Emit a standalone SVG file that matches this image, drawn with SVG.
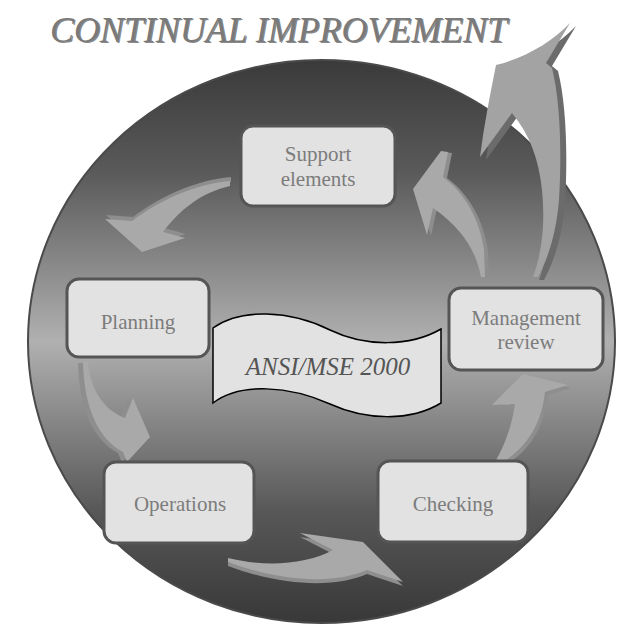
<svg xmlns="http://www.w3.org/2000/svg" width="621" height="624" viewBox="0 0 621 624">
<defs>
<linearGradient id="disc" x1="0" y1="0" x2="0" y2="1">
<stop offset="0" stop-color="#3a3a3a"/>
<stop offset="0.2" stop-color="#5a5a5a"/>
<stop offset="0.5" stop-color="#b0b0b0"/>
<stop offset="0.8" stop-color="#585858"/>
<stop offset="1" stop-color="#383838"/>
</linearGradient>
</defs>
<style>
.box{fill:#e2e2e2;stroke:#555;stroke-width:3}
.lbl{font-family:"Liberation Serif","Times New Roman",serif;font-size:21px;fill:#7c7c7c;text-anchor:middle}
.face{fill:#a9a9a9}
.side{fill:#8e8e8e}
.bigface{fill:#a3a3a3}
.bigside{fill:#6b6b6b}
.ttl{font-family:"Liberation Serif","Times New Roman",serif;font-style:italic;font-size:36px}
</style>
<rect width="621" height="624" fill="#ffffff"/>
<ellipse id="disc-bg" cx="321.5" cy="341.5" rx="293.5" ry="281.5" fill="url(#disc)" stroke="#4a4a4a" stroke-width="2"/>

<g id="connectors">
<g id="arrow-mgmt-support">
<path class="side" transform="translate(4,1)" d="M441,151 L448,152 L443,177 C465,193 480,220 484,250 L485,277 L481,277 C477,255 465,230 433,208 L427,235 L413,189 Z"/>
<path class="face" d="M441,151 L448,152 L443,177 C465,193 480,220 484,250 L485,277 L481,277 C477,255 465,230 433,208 L427,235 L413,189 Z"/>
</g>
<g id="arrow-support-planning">
<path class="side" transform="translate(1,-4)" d="M230,181 C195,184 160,200 132,221 L105,219 L142,252 L185,238 L163,232 C180,210 200,193 230,186 Z"/>
<path class="face" d="M230,181 C195,184 160,200 132,221 L105,219 L142,252 L185,238 L163,232 C180,210 200,193 230,186 Z"/>
</g>
<g id="arrow-planning-operations">
<path class="side" transform="translate(-5,1)" d="M88,362 C90,388 103,410 125,418 L133,398 L150,437 L127,462 L123,452 C100,440 84,410 83,362 Z"/>
<path class="face" d="M88,362 C90,388 103,410 125,418 L133,398 L150,437 L127,462 L123,452 C100,440 84,410 83,362 Z"/>
</g>
<g id="arrow-operations-checking">
<path class="side" transform="translate(0,4)" d="M228,558 C265,567 305,565 333,550 L300,533 L363,542 L403,582 L367,570 C340,582 290,585 228,562 Z"/>
<path class="face" d="M228,558 C265,567 305,565 333,550 L300,533 L363,542 L403,582 L367,570 C340,582 290,585 228,562 Z"/>
</g>
<g id="arrow-checking-mgmt">
<path class="side" transform="translate(3,3)" d="M495,462 C505,445 512,425 515,404 L492,405 L523,374 L568,385 L545,392 C542,420 530,445 503,462 Z"/>
<path class="face" d="M495,462 C505,445 512,425 515,404 L492,405 L523,374 L568,385 L545,392 C542,420 530,445 503,462 Z"/>
</g>
<g id="arrow-continual">
<path class="bigside" transform="translate(6,3)" d="M496,65 C525,58 552,42 570,23 L546,63 L552,68 C560,100 562,150 559,200 C556,235 548,258 538,277 L533,277 C543,250 545,220 542,190 C539,160 530,135 512,113 L480,157 C484,125 490,95 496,65 Z"/>
<path class="bigface" d="M496,65 C525,58 552,42 570,23 L546,63 L552,68 C560,100 562,150 559,200 C556,235 548,258 538,277 L533,277 C543,250 545,220 542,190 C539,160 530,135 512,113 L480,157 C484,125 490,95 496,65 Z"/>
</g>
</g>

<g id="node-support">
<rect class="box" x="241" y="126" width="154" height="80" rx="12"/>
<text class="lbl" x="318" y="161">Support</text>
<text class="lbl" x="318" y="186">elements</text>
</g>
<g id="node-planning">
<rect class="box" x="67" y="279" width="142" height="78" rx="12"/>
<text class="lbl" x="138" y="329">Planning</text>
</g>
<g id="node-operations">
<rect class="box" x="104" y="462" width="150" height="81" rx="12"/>
<text class="lbl" x="180" y="511">Operations</text>
</g>
<g id="node-checking">
<rect class="box" x="378" y="461" width="150" height="81" rx="12"/>
<text class="lbl" x="453" y="511">Checking</text>
</g>
<g id="node-management">
<rect class="box" x="449" y="288" width="154" height="82" rx="12"/>
<text class="lbl" x="526" y="325">Management</text>
<text class="lbl" x="526" y="349">review</text>
</g>
<g id="node-banner">
<path d="M213,328 C240,308 290,310 330,330 C365,347 410,347 441,329 L441,403 C410,422 365,420 330,404 C290,386 240,382 213,403 Z" fill="#e2e2e2" stroke="#000" stroke-width="1.5"/>
<text x="328" y="375" font-family="'Liberation Serif','Times New Roman',serif" font-style="italic" font-size="25" fill="#555" text-anchor="middle">ANSI/MSE 2000</text>
</g>
<g id="title">
<text class="ttl" x="51.2" y="43.2" fill="#3a3a3a" fill-opacity="0.6" textLength="457" lengthAdjust="spacingAndGlyphs">CONTINUAL IMPROVEMENT</text>
<text class="ttl" x="50" y="42" fill="#7a7a7a" textLength="457" lengthAdjust="spacingAndGlyphs">CONTINUAL IMPROVEMENT</text>
</g>
</svg>
